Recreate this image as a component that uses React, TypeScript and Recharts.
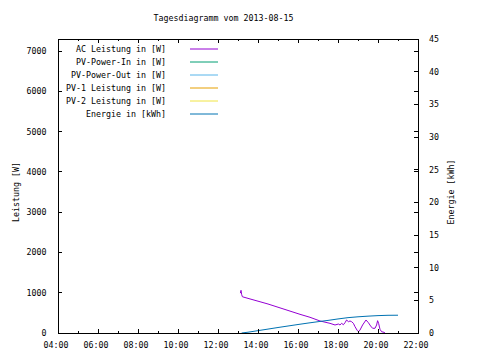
import { ComposedChart, Line, XAxis, YAxis, Legend, ReferenceArea } from "recharts";

const FONT = "'DejaVu Sans Mono', 'Liberation Mono', monospace";
const FONT_SIZE = 8.3;

const PLOT_TOP = 39;
const PLOT_WIDTH = 360;

const hourTicks = [4, 5, 6, 7, 8, 9, 10, 11, 12, 13, 14, 15, 16, 17, 18, 19, 20, 21, 22];
const powerTicks = [0, 1000, 2000, 3000, 4000, 5000, 6000, 7000];
const energyTicks = [0, 5, 10, 15, 20, 25, 30, 35, 40, 45];

const seriesNames = [
  "AC Leistung in [W]",
  "PV-Power-In in [W]",
  "PV-Power-Out in [W]",
  "PV-1 Leistung in [W]",
  "PV-2 Leistung in [W]",
  "Energie in [kWh]",
];

// AC Leistung in [W], time in hours of the day
const acTime = [
  13.12, 13.15, 13.18, 13.22, 13.5, 14.0, 14.5, 15.0, 15.5, 16.1, 16.6, 17.1, 17.6, 17.85,
  18.02, 18.1, 18.18, 18.27, 18.35, 18.43, 18.52, 18.6, 18.68, 18.77, 18.85, 18.97, 19.03,
  19.1, 19.23, 19.4, 19.52, 19.63, 19.73, 19.85, 19.93, 19.98, 20.03, 20.1, 20.18, 20.3, 20.35,
];
const acPower = [
  990, 1060, 960, 900, 860, 790, 720, 640, 560, 464, 390, 298, 240, 199,
  223, 199, 240, 206, 256, 323, 281, 298, 281, 240, 157, 57, 32,
  74, 199, 323, 256, 174, 117, 117, 199, 306, 240, 91, 32, 17, 0,
];

// Energie in [kWh]
const energyTime = [13.18, 13.5, 14.0, 14.5, 15.0, 15.5, 16.0, 16.5, 17.0, 17.5, 18.0, 18.5, 19.0, 19.5, 20.0, 20.5, 21.0];
const energyValue = [0, 0.12, 0.36, 0.6, 0.84, 1.07, 1.3, 1.52, 1.73, 1.93, 2.15, 2.35, 2.48, 2.58, 2.66, 2.71, 2.72];

// series without values on this day
const pvInTime: number[] = [];
const pvInPower: number[] = [];
const pvOutTime: number[] = [];
const pvOutPower: number[] = [];
const pv1Time: number[] = [];
const pv1Power: number[] = [];
const pv2Time: number[] = [];
const pv2Power: number[] = [];

const acData = acTime.map((t, i) => ({ t, v: acPower[i] }));
const energyData = energyTime.map((t, i) => ({ t, v: energyValue[i] }));
const pvInData = pvInTime.map((t, i) => ({ t, v: pvInPower[i] }));
const pvOutData = pvOutTime.map((t, i) => ({ t, v: pvOutPower[i] }));
const pv1Data = pv1Time.map((t, i) => ({ t, v: pv1Power[i] }));
const pv2Data = pv2Time.map((t, i) => ({ t, v: pv2Power[i] }));

const textStyle = { fontFamily: FONT, fontSize: FONT_SIZE, fill: "#000" };

function hourLabel(h: number) {
  return `${String(h).padStart(2, "0")}:00`;
}

function TimeTick({ x, y, payload }: any) {
  const h = payload.value;
  const major = h % 2 === 0;
  const len = major ? 4 : 2;
  return (
    <g className="crisp">
      <line x1={x} x2={x} y1={y} y2={y - len} stroke="#000" />
      <line x1={x} x2={x} y1={PLOT_TOP} y2={PLOT_TOP + len} stroke="#000" />
      {major && (
        <text x={x - 2} y={y + 14.5} textAnchor="middle" {...textStyle}>
          {hourLabel(h)}
        </text>
      )}
    </g>
  );
}

function PowerTick({ x, y, payload }: any) {
  return (
    <g className="crisp">
      <line x1={x} x2={x + 4} y1={y} y2={y} stroke="#000" />
      <line x1={x + PLOT_WIDTH} x2={x + PLOT_WIDTH - 4} y1={y} y2={y} stroke="#000" />
      <text x={x - 11.5} y={y + 3} textAnchor="end" {...textStyle}>
        {payload.value}
      </text>
    </g>
  );
}

function EnergyTick({ x, y, payload }: any) {
  return (
    <g className="crisp">
      <line x1={x} x2={x - 4} y1={y} y2={y} stroke="#000" />
      <text x={x + 11} y={y + 3} textAnchor="start" {...textStyle}>
        {payload.value}
      </text>
    </g>
  );
}

function GnuLegend({ payload }: any) {
  const items = [...(payload || [])].sort(
    (a: any, b: any) => seriesNames.indexOf(a.value) - seriesNames.indexOf(b.value)
  );
  return (
    <svg width={230} height={120} style={{ display: "block" }}>
      {items.map((p: any, i: number) => {
        const cy = 49 + i * 13;
        return (
          <g key={p.value}>
            <text x={166} y={cy + 2.5} textAnchor="end" {...textStyle}>
              {p.value}
            </text>
            <line x1={190} x2={218} y1={cy} y2={cy} stroke={p.color} />
          </g>
        );
      })}
    </svg>
  );
}

function SideLabel({ viewBox, text, cx }: any) {
  const cy = viewBox.y + viewBox.height / 2 + 6;
  return (
    <text x={cx + 2.5} y={cy} transform={`rotate(-90, ${cx + 2.5}, ${cy})`} textAnchor="middle" {...textStyle}>
      {text}
    </text>
  );
}

export default function App() {
  return (
    <div style={{ position: "absolute", left: 0, top: 0, width: 480, height: 360, background: "#fff" }}>
      <style>{".crisp line, .recharts-reference-area-rect { shape-rendering: crispEdges; }"}</style>
      <svg width={480} height={30} style={{ position: "absolute", left: 0, top: 0 }}>
        <text x={223.5} y={20.5} textAnchor="middle" {...textStyle}>
          Tagesdiagramm vom 2013-08-15
        </text>
      </svg>
      <ComposedChart width={480} height={360} margin={{ top: PLOT_TOP, right: 0, bottom: 0, left: 0 }}>
        <XAxis
          xAxisId="x"
          dataKey="t"
          type="number"
          domain={[4, 22]}
          ticks={hourTicks}
          allowDataOverflow
          height={27}
          axisLine={false}
          tickLine={false}
          tickSize={0}
          tickMargin={0}
          interval={0}
          tick={<TimeTick />}
        />
        <YAxis
          yAxisId="left"
          type="number"
          domain={[0, 7300]}
          ticks={powerTicks}
          allowDataOverflow
          width={58}
          axisLine={false}
          tickLine={false}
          tickSize={0}
          tickMargin={0}
          interval={0}
          tick={<PowerTick />}
          label={{ content: (p: any) => <SideLabel {...p} text="Leistung [W]" cx={16} /> }}
        />
        <YAxis
          yAxisId="right"
          orientation="right"
          type="number"
          domain={[0, 45]}
          ticks={energyTicks}
          allowDataOverflow
          width={62}
          axisLine={false}
          tickLine={false}
          tickSize={0}
          tickMargin={0}
          interval={0}
          tick={<EnergyTick />}
          label={{ content: (p: any) => <SideLabel {...p} text="Energie [kWh]" cx={451.5} /> }}
        />
        <ReferenceArea
          xAxisId="x"
          yAxisId="left"
          x1={4}
          x2={22}
          y1={0}
          y2={7300}
          fill="none"
          fillOpacity={0}
          stroke="#000"
          ifOverflow="visible"
        />
        <Legend
          layout="vertical"
          align="center"
          verticalAlign="middle"
          width={230}
          wrapperStyle={{ position: "absolute", left: 0, top: 0, width: 230, height: 120 }}
          content={<GnuLegend />}
        />
        <Line xAxisId="x" yAxisId="left" data={acData} dataKey="v" name={seriesNames[0]} stroke="#9400d3" strokeWidth={1} dot={false} isAnimationActive={false} />
        <Line xAxisId="x" yAxisId="left" data={pvInData} dataKey="v" name={seriesNames[1]} stroke="#009e73" strokeWidth={1} dot={false} isAnimationActive={false} />
        <Line xAxisId="x" yAxisId="left" data={pvOutData} dataKey="v" name={seriesNames[2]} stroke="#56b4e9" strokeWidth={1} dot={false} isAnimationActive={false} />
        <Line xAxisId="x" yAxisId="left" data={pv1Data} dataKey="v" name={seriesNames[3]} stroke="#e69f00" strokeWidth={1} dot={false} isAnimationActive={false} />
        <Line xAxisId="x" yAxisId="left" data={pv2Data} dataKey="v" name={seriesNames[4]} stroke="#f0e442" strokeWidth={1} dot={false} isAnimationActive={false} />
        <Line xAxisId="x" yAxisId="right" data={energyData} dataKey="v" name={seriesNames[5]} stroke="#0072b2" strokeWidth={1} dot={false} isAnimationActive={false} />
      </ComposedChart>
    </div>
  );
}
